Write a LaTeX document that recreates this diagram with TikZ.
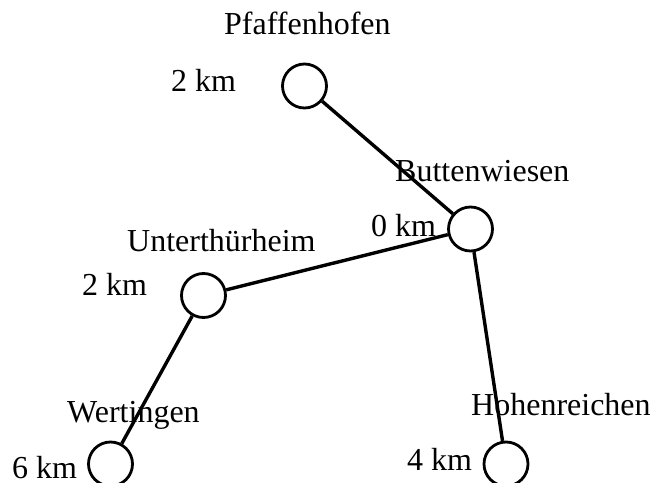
\documentclass[tikz,border=0pt]{standalone}
\usepackage{fontspec}
\setmainfont{Liberation Serif}
\begin{document}
\begin{tikzpicture}[x=1bp,y=-1bp,
  town/.style={circle,draw,line width=2.8bp,minimum size=44bp,inner sep=0pt},
  road/.style={line width=3.4bp},
  lbl/.style={inner sep=0pt,anchor=base west,font=\fontsize{32bp}{38bp}\selectfont}]
  \useasboundingbox (0,0) rectangle (667,483);

  % towns
  \node[town] (pf) at (304.5,86) {};
  \node[town] (bu) at (470.5,229) {};
  \node[town] (un) at (203.5,295.5) {};
  \node[town] (we) at (110.5,464) {};
  \node[town] (ho) at (506,464) {};

  % roads
  \draw[road] (pf) -- (bu);
  \draw[road] (bu) -- (un);
  \draw[road] (bu) -- (ho);
  \draw[road] (un) -- (we);

  % names
  \node[lbl] (pfn) at (224,35) {Pfaffenhofen};
  \node[lbl] (bun) at (395,182) {Buttenwiesen};
  \node[lbl] (unn) at (127,252) {Unterthürheim};
  \node[lbl] (wen) at (67,422) {Wertingen};
  \node[lbl] (hon) at (471,415) {Hohenreichen};

  % distances
  \node[lbl] (pfd) at (171,92) {2 km};
  \node[lbl] (bud) at (371,237) {0 km};
  \node[lbl] (und) at (82,295) {2 km};
  \node[lbl] (wed) at (12,478) {6 km};
  \node[lbl] (hod) at (407,470) {4 km};
\end{tikzpicture}
\end{document}
